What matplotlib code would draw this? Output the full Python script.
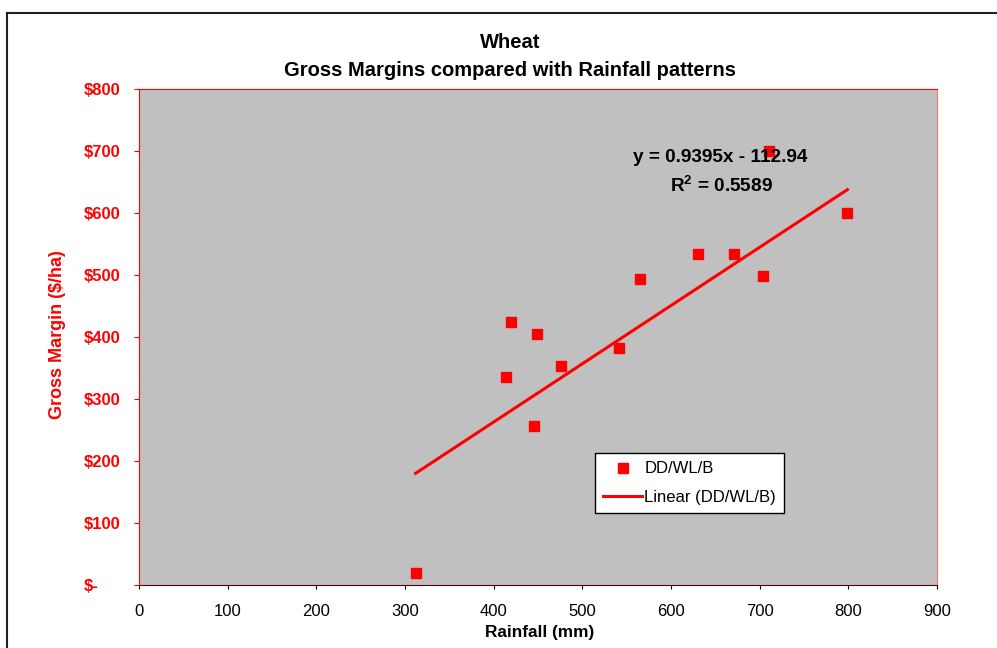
import numpy as np
import matplotlib.pyplot as plt
from matplotlib.lines import Line2D

plt.rcParams['font.family'] = ['Liberation Sans', 'DejaVu Sans']
plt.rcParams['mathtext.fontset'] = 'custom'
plt.rcParams['mathtext.rm'] = 'Liberation Sans'
plt.rcParams['mathtext.bf'] = 'Liberation Sans:bold'

rainfall = [312, 414, 420, 449, 446, 476, 541, 565, 631, 671, 704, 710, 799]
margin = [20, 335, 424, 405, 257, 353, 383, 494, 534, 534, 499, 700, 600]
x_ticks = [0, 100, 200, 300, 400, 500, 600, 700, 800, 900]
y_ticks = [0, 100, 200, 300, 400, 500, 600, 700, 800]
y_labels = ['$-', '$100', '$200', '$300', '$400', '$500', '$600', '$700', '$800']
# trendline as reported on the chart
slope = 0.9395
intercept = -112.94
r_squared = 0.5589

fig = plt.figure(figsize=(9.97, 6.48), dpi=100)
ax = fig.add_axes([139 / 997, 1 - 585 / 648, (937 - 139) / 997, (585 - 89) / 648])
ax.set_facecolor('#c0c0c0')

ax.plot(rainfall, margin, 's', color='red', markersize=7, label='DD/WL/B', zorder=3)

xs = np.array([min(rainfall), max(rainfall)])
ax.plot(xs, slope * xs + intercept, color='red', linewidth=2.2, label='Linear (DD/WL/B)')

ax.set_xlim(0, 900)
ax.set_ylim(0, 800)
ax.set_xticks(x_ticks)
ax.set_yticks(y_ticks)
ax.set_yticklabels(y_labels)
ax.tick_params(axis='x', direction='out', length=3, colors='black', labelsize=12, pad=11)
ax.tick_params(axis='y', direction='out', length=3.5, color='red', labelcolor='red', labelsize=12, pad=36.5)
for lbl in ax.get_yticklabels():
    lbl.set_fontweight('bold')
    lbl.set_horizontalalignment('left')

for side in ['top', 'left']:
    ax.spines[side].set_color('red')
ax.spines['right'].set_color('#ff7070')
ax.spines['bottom'].set_color('#600000')

ax.text(656, 690, 'y = %.4fx - %.2f' % (slope, -intercept), ha='center', va='center',
        fontsize=13.7, fontweight='bold')
ax.text(657, 645, r'R$^\mathbf{2}$ = %.4f' % r_squared, ha='center', va='center',
        fontsize=13.7, fontweight='bold')

leg = ax.legend(loc='upper left', bbox_to_anchor=((595 - 139) / 798, (585 - 453) / 496),
                fontsize=12, frameon=True, fancybox=False, edgecolor='black',
                facecolor='white', framealpha=1, handlelength=2.3, borderpad=0.5,
                labelspacing=0.8, handletextpad=0.15, borderaxespad=0)
leg.get_frame().set_linewidth(1.0)

fig.text(510 / 997, 1 - 43 / 648, 'Wheat', ha='center', va='center', fontsize=14.5, fontweight='bold')
fig.text(510 / 997, 1 - 70 / 648, 'Gross Margins compared with Rainfall patterns', ha='center', va='center',
         fontsize=14.5, fontweight='bold')
fig.text(58 / 997, 1 - 335 / 648, 'Gross Margin ($/ha)', rotation=90, ha='center', va='center',
         fontsize=13, fontweight='bold', color='red')
fig.text(540 / 997, 1 - 633 / 648, 'Rainfall (mm)', ha='center', va='center', fontsize=12.4, fontweight='bold')

# outer chart frame (left and top edges visible)
fig.add_artist(Line2D([7 / 997, 7 / 997], [0, 1 - 13 / 648], transform=fig.transFigure, color='#222222', linewidth=1.5))
fig.add_artist(Line2D([7 / 997, 1], [1 - 13 / 648, 1 - 13 / 648], transform=fig.transFigure, color='#222222', linewidth=1.5))

fig.savefig('out.png', dpi=100)
